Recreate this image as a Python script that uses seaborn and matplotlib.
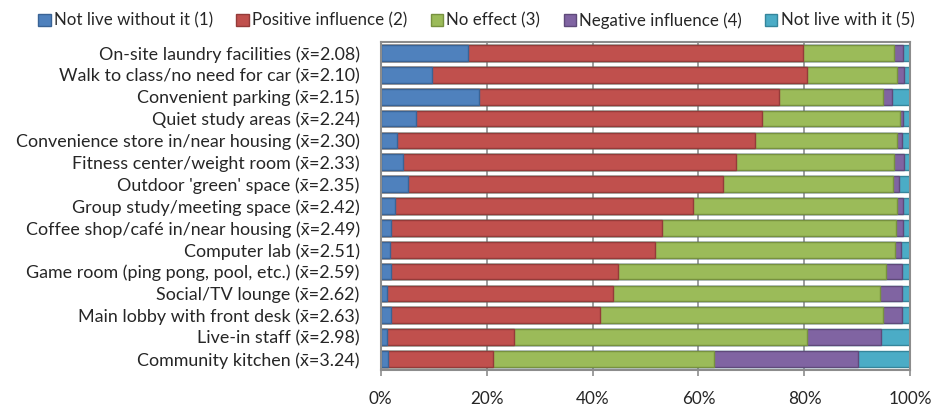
import numpy as np
import pandas as pd
import seaborn as sns
import matplotlib
matplotlib.use("Agg")
import matplotlib.pyplot as plt
from matplotlib.patches import Patch
from matplotlib.ticker import FuncFormatter

# Amenity items with their mean rating
items = [
    "On-site laundry facilities (x\u0304=2.08)",
    "Walk to class/no need for car (x\u0304=2.10)",
    "Convenient parking (x\u0304=2.15)",
    "Quiet study areas (x\u0304=2.24)",
    "Convenience store in/near housing (x\u0304=2.30)",
    "Fitness center/weight room (x\u0304=2.33)",
    "Outdoor 'green' space (x\u0304=2.35)",
    "Group study/meeting space (x\u0304=2.42)",
    "Coffee shop/caf\u00e9 in/near housing (x\u0304=2.49)",
    "Computer lab (x\u0304=2.51)",
    "Game room (ping pong, pool, etc.) (x\u0304=2.59)",
    "Social/TV lounge (x\u0304=2.62)",
    "Main lobby with front desk (x\u0304=2.63)",
    "Live-in staff (x\u0304=2.98)",
    "Community kitchen (x\u0304=3.24)",
]

levels = [
    "Not live without it (1)",
    "Positive influence (2)",
    "No effect (3)",
    "Negative influence (4)",
    "Not live with it (5)",
]

# Percent of respondents per response level
not_live_without = [16.6, 9.8, 18.6, 6.7, 3.2, 4.2, 5.2, 2.7, 1.9, 1.7, 1.9, 1.3, 1.9, 1.3, 1.5]
positive = [63.2, 70.7, 56.5, 65.3, 67.5, 62.9, 59.5, 56.3, 51.3, 50.0, 42.9, 42.6, 39.5, 23.9, 19.8]
no_effect = [17.1, 16.9, 19.8, 26.1, 26.8, 29.8, 32.0, 38.4, 44.0, 45.3, 50.6, 50.3, 53.5, 55.2, 41.6]
negative = [1.6, 1.3, 1.6, 0.4, 0.9, 1.9, 1.2, 1.1, 1.3, 1.3, 3.0, 4.2, 3.5, 14.0, 27.2]
not_live_with = [1.5, 1.3, 3.5, 1.5, 1.6, 1.2, 2.1, 1.5, 1.5, 1.7, 1.6, 1.6, 1.6, 5.6, 9.9]

face_colors = ["#4F81BD", "#C0504D", "#9BBB59", "#8064A2", "#4BACC6"]
edge_colors = ["#3A6395", "#943B39", "#77913F", "#5F4A7A", "#35859B"]

sns.set_theme(style="white")
plt.rcParams["font.family"] = ["Lato", "DejaVu Sans"]

series = np.array([not_live_without, positive, no_effect, negative, not_live_with])
totals = series.sum(axis=0)
shares = series / totals * 100
cum = np.cumsum(shares, axis=0)

fig = plt.figure(figsize=(9.37, 4.05), dpi=100)
ax = fig.add_axes([0.4061, 0.0864, 0.5656, 0.8099])

# Vertical gridlines behind the bars
for v in [20, 40, 60, 80]:
    ax.axvline(v, color="#8C8C8C", lw=1.2, zorder=0)

# Stacked bars: draw the cumulative totals from the outermost level inwards
for i in range(len(levels) - 1, -1, -1):
    df = pd.DataFrame({"item": items, "value": cum[i]})
    sns.barplot(
        data=df, x="value", y="item", order=items, orient="h",
        color=face_colors[i], edgecolor=edge_colors[i], linewidth=1.0,
        width=0.72, saturation=1, ax=ax, zorder=2,
    )

ax.set_xlim(0, 100)
ax.set_ylim(len(items) - 0.5, -0.5)
ax.set_xticks([0, 20, 40, 60, 80, 100])
ax.xaxis.set_major_formatter(FuncFormatter(lambda v, p: f"{v:.0f}%"))
ax.set_xlabel("")
ax.set_ylabel("")
ax.tick_params(axis="x", length=4, width=1.2, color="#8C8C8C", labelsize=12.3, pad=11, direction="out")
ax.tick_params(axis="y", length=0, labelsize=12.9, pad=15)
ax.xaxis.set_ticks_position("bottom")
for side in ["left", "right", "top", "bottom"]:
    ax.spines[side].set_visible(True)
    ax.spines[side].set_color("#8C8C8C")
    ax.spines[side].set_linewidth(1.5)

handles = [Patch(facecolor=face_colors[i], edgecolor=edge_colors[i], linewidth=1.0, label=levels[i])
           for i in range(len(levels))]
fig.legend(
    handles=handles, loc="upper center", bbox_to_anchor=(0.5085, 0.997), ncol=5,
    frameon=False, fontsize=12.2, handlelength=0.72, handleheight=0.72,
    handletextpad=0.2, columnspacing=1.38, borderaxespad=0.25,
)

fig.savefig("out.png", dpi=100)
